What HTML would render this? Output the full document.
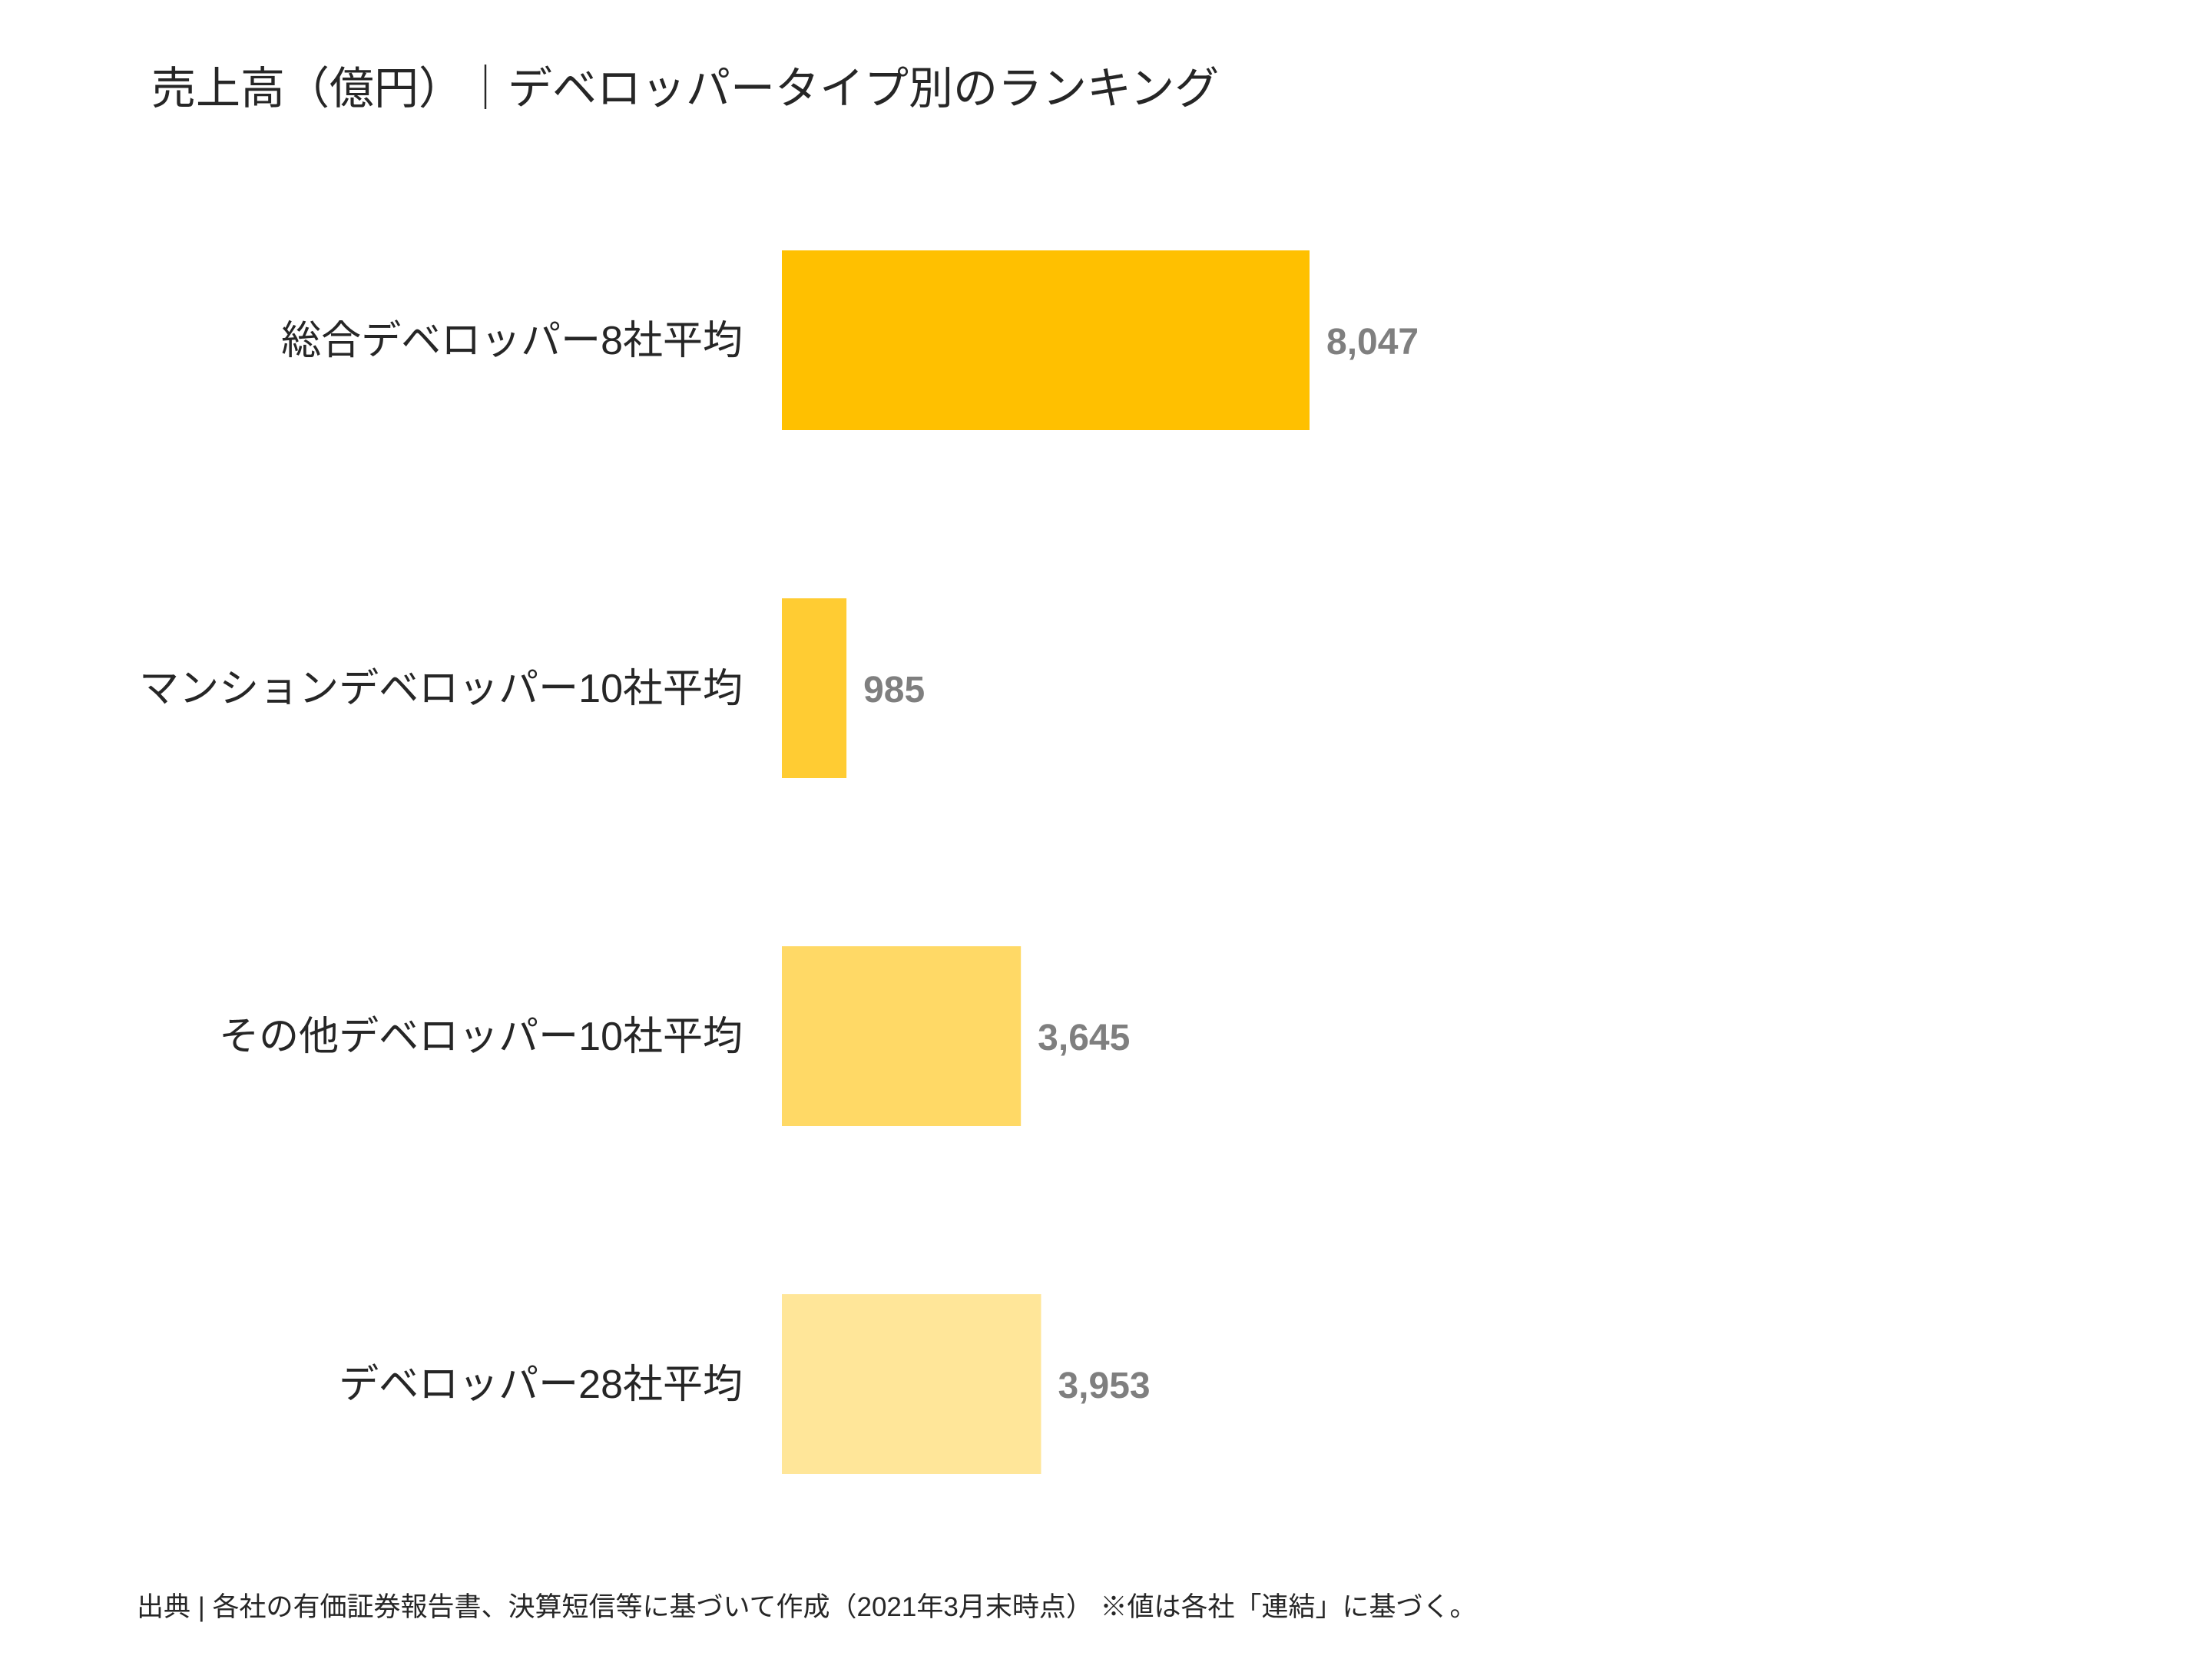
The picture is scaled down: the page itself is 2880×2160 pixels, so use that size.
<!DOCTYPE html>
<html><head><meta charset="utf-8"><style>
body{margin:0;width:2880px;height:2160px;background:#fff;overflow:hidden;font-family:"Liberation Sans","Noto Sans CJK JP",sans-serif;}
svg{display:block}
</style></head><body>
<svg id="chart" width="2880" height="2160" xmlns="http://www.w3.org/2000/svg">
<text x="197" y="135" font-size="58" fill="#262626" font-family="Liberation Sans, Noto Sans CJK JP, sans-serif">売上高（億円）｜デベロッパータイプ別のランキング</text>
<g id="bars"></g>
<text x="178" y="2104" font-size="35" fill="#262626" font-family="Liberation Sans, Noto Sans CJK JP, sans-serif">出典 | 各社の有価証券報告書、決算短信等に基づいて作成（2021年3月末時点） ※値は各社「連結」に基づく。</text>
</svg>
<script>
const categories = ["総合デベロッパー8社平均","マンションデベロッパー10社平均","その他デベロッパー10社平均","デベロッパー28社平均"];
const values = [8047, 985, 3645, 3953];
const valueLabels = ["8,047","985","3,645","3,953"];
const colors = ["#FFC000","#FFCC33","#FFD966","#FFE699"];
const x0 = 1018, pxPerUnit = (1705-1018)/8047;
const xScale = v => x0 + v*pxPerUnit;
const yTop = i => 326 + i*453;
const barH = 234;
const ns = "http://www.w3.org/2000/svg";
const g = document.getElementById("bars");
categories.forEach((c,i)=>{
  const r = document.createElementNS(ns,"rect");
  
  
  r.setAttribute("x", x0); r.setAttribute("y", yTop(i));
  r.setAttribute("width", xScale(values[i])-x0); r.setAttribute("height", barH);
  r.setAttribute("fill", colors[i]);
  g.appendChild(r);
  const t = document.createElementNS(ns,"text");
  
  
  t.setAttribute("x", 967); t.setAttribute("y", yTop(i)+barH/2+18);
  t.setAttribute("text-anchor","end"); t.setAttribute("font-size","52"); t.setAttribute("fill","#262626");
  t.textContent = c; g.appendChild(t);
  const v = document.createElementNS(ns,"text");
  
  
  v.setAttribute("x", xScale(values[i])+22); v.setAttribute("y", yTop(i)+barH/2+18);
  v.setAttribute("font-size","48"); v.setAttribute("font-weight","bold"); v.setAttribute("fill","#7f7f7f");
  v.textContent = valueLabels[i]; g.appendChild(v);
});
</script>
</body></html>
